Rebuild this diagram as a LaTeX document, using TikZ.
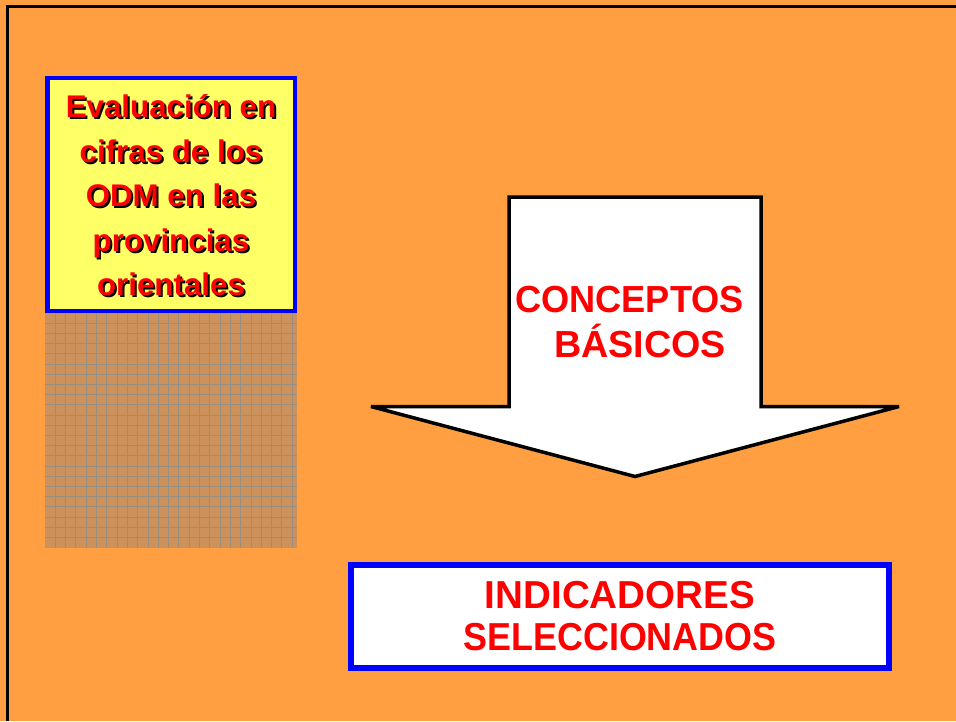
\documentclass[tikz,border=0pt]{standalone}
\usepackage{fontspec}
\setmainfont{Liberation Sans}
\usepackage{graphicx}
\definecolor{bgorange}{RGB}{255,159,66}
\definecolor{boxyellow}{RGB}{255,255,102}
\definecolor{gridbrown}{RGB}{205,146,92}
\definecolor{gridline}{RGB}{152,142,130}
\definecolor{txtred}{RGB}{255,0,0}
\definecolor{boxblue}{RGB}{0,0,255}
\newcommand\shadowed[1]{\rlap{\kern2pt\raisebox{-2pt}{\color{black}#1}}#1}
\tikzset{
  bluebox/.style={draw=boxblue, inner sep=0pt, outer sep=0pt},
  redtext/.style={text=txtred, align=center, inner sep=0pt},
}
\begin{document}
\begin{tikzpicture}[x=1pt,y=-1pt]
\useasboundingbox (0,0) rectangle (956,721);
\fill[bgorange] (0,0) rectangle (956,721);
\draw[black, line width=3pt] (7.5,721) -- (7.5,6.5) -- (956,6.5);

% brown grid panel
\fill[gridbrown] (45,313) rectangle (297,548);
\foreach \i in {1,...,24} \draw[gridline, line width=0.9pt] ({45+10.3*\i},313) -- ({45+10.3*\i},548);
\foreach \j in {1,...,22} \draw[gridline, line width=0.9pt] (45,{313+10.2*\j}) -- (297,{313+10.2*\j});

% yellow title box
\node[bluebox, line width=4.5pt, fill=boxyellow, minimum width=247.5pt, minimum height=233pt] (ybox) at (171.25,194.5) {};
\node[redtext, font=\fontsize{31.3}{44.5}\selectfont\bfseries] (ytxt) at (171,196.5)
  {\shadowed{Evaluación en}\\\shadowed{cifras de los}\\\shadowed{ODM en las}\\\shadowed{provincias}\\\shadowed{orientales}};

% big down arrow
\draw[black, line width=3.5pt, fill=white, line join=miter, miter limit=4]
  (509,197) -- (761,197) -- (761,406.5) -- (899,406.5) -- (635,476.5) -- (371,406.5) -- (509,406.5) -- cycle;
\node[redtext, font=\fontsize{37.7}{45}\selectfont\bfseries] (concepts) at (629.5,322)
  {\scalebox{0.96}[1]{CONCEPTOS}\\\hspace*{21pt}BÁSICOS};

% result box
\node[bluebox, line width=5.5pt, fill=white, minimum width=538pt, minimum height=103pt,
      text=txtred, align=center, font=\fontsize{39}{42}\selectfont\bfseries] (indic) at (620,616.5)
  {\scalebox{0.99}[1]{INDICADORES}\\\scalebox{0.92}[1]{SELECCIONADOS}};
\end{tikzpicture}
\end{document}
